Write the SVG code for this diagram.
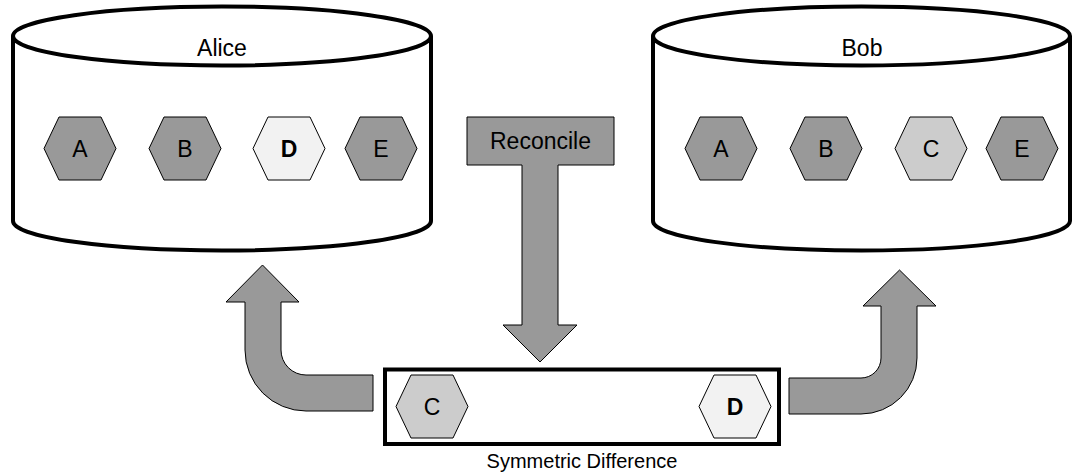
<svg xmlns="http://www.w3.org/2000/svg" xmlns:xlink="http://www.w3.org/1999/xlink" width="1074" height="476" viewBox="0 0 1074 476">
<style>
.cyl{fill:#ffffff;stroke:#000000;stroke-width:4}
.box{fill:#ffffff;stroke:#000000;stroke-width:4}
.arrow{fill:#999999;stroke:#000000;stroke-width:1}
.hx{stroke:#000000;stroke-width:1}
.dark{fill:#999999}
.mid{fill:#cccccc}
.light{fill:#f2f2f2}
text{font-family:"Liberation Sans",Arial,sans-serif;fill:#000000;text-anchor:middle}
.lbl{font-size:23px}
.hl{font-size:23px}
.b{font-weight:bold}
</style>
<defs>
<polygon id="hex" points="-36,0 -21,-31.5 21,-31.5 36,0 21,31.5 -21,31.5"/>
</defs>
<g id="connectors">
<path class="arrow" d="M373,375 L306,375 A25,25 0 0 1 281,350 L281,302 L299,302 L262.5,265 L226,302 L245,302 L245,350 A61,61 0 0 0 306,411 L373,411 Z"/>
<path class="arrow" d="M789,378 L861,378 A20,20 0 0 0 881,358 L881,306 L863,306 L899.5,270 L936,306 L917,306 L917,358 A56,56 0 0 1 861,414 L789,414 Z"/>
</g>
<g id="alice">
<path class="cyl" d="M13,36 A209,29.5 0 0 1 431,36 L431,221 A209,29.5 0 0 1 13,221 Z"/>
<path class="cyl" fill="none" d="M13,36 A209,29.5 0 0 0 431,36"/>
<text class="lbl" x="222" y="56">Alice</text>
</g>
<g id="alice-a"><use href="#hex" class="hx dark" x="80" y="148.5"/><text class="hl" x="80" y="157">A</text></g>
<g id="alice-b"><use href="#hex" class="hx dark" x="185" y="148.5"/><text class="hl" x="185" y="157">B</text></g>
<g id="alice-d"><use href="#hex" class="hx light" x="289" y="148.5"/><text class="hl b" x="289" y="157">D</text></g>
<g id="alice-e"><use href="#hex" class="hx dark" x="381" y="148.5"/><text class="hl" x="381" y="157">E</text></g>
<g id="bob">
<path class="cyl" d="M653,36 A208.5,29.5 0 0 1 1070,36 L1070,221 A208.5,29.5 0 0 1 653,221 Z"/>
<path class="cyl" fill="none" d="M653,36 A208.5,29.5 0 0 0 1070,36"/>
<text class="lbl" x="862" y="56">Bob</text>
</g>
<g id="bob-a"><use href="#hex" class="hx dark" x="721" y="148.5"/><text class="hl" x="721" y="157">A</text></g>
<g id="bob-b"><use href="#hex" class="hx dark" x="826" y="148.5"/><text class="hl" x="826" y="157">B</text></g>
<g id="bob-c"><use href="#hex" class="hx mid" x="931" y="148.5"/><text class="hl" x="931" y="157">C</text></g>
<g id="bob-e"><use href="#hex" class="hx dark" x="1022" y="148.5"/><text class="hl" x="1022" y="157">E</text></g>
<g id="reconcile">
<path class="arrow" d="M467,117 L614,117 L614,165 L558,165 L558,325 L577,325 L540,362 L503,325 L522,325 L522,165 L467,165 Z"/>
<text class="lbl" x="540.5" y="149">Reconcile</text>
</g>
<g id="symdiff">
<rect class="box" x="385" y="369.5" width="394" height="74.5"/>
<text style="font-size:20px" x="582" y="468">Symmetric Difference</text>
</g>
<g id="sd-c"><use href="#hex" class="hx mid" x="432" y="406.5"/><text class="hl" x="432" y="415">C</text></g>
<g id="sd-d"><use href="#hex" class="hx light" x="735" y="406.5"/><text class="hl b" x="735" y="415">D</text></g>
</svg>
